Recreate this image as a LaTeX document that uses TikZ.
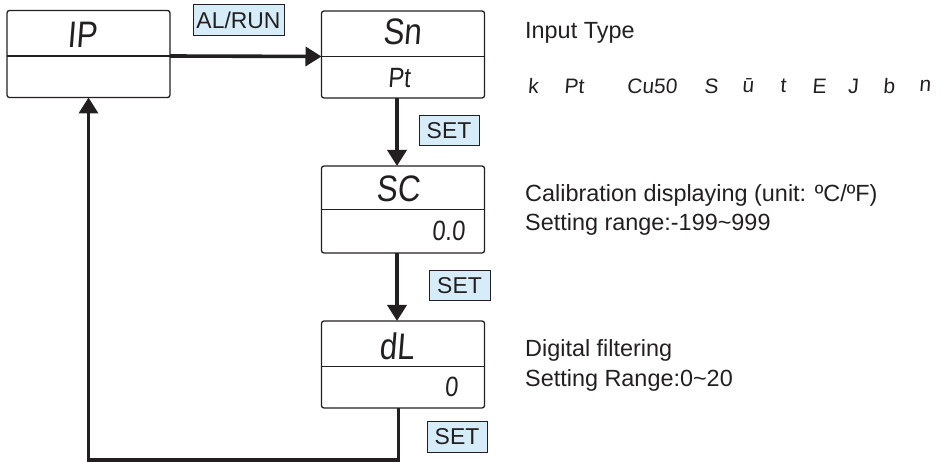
\documentclass[tikz,border=0pt]{standalone}
\usepackage{fontspec}
\setmainfont{Liberation Sans}
\newfontfamily\segfont[FakeStretch=0.85,FakeSlant=0.08]{Liberation Sans}
\newfontfamily\rowfont[FakeSlant=0.08]{Liberation Sans}
\usetikzlibrary{arrows.meta}
\definecolor{ink}{HTML}{231F20}
\definecolor{keyblue}{HTML}{D6ECF9}
\begin{document}
\begin{tikzpicture}[x=1bp,y=-1bp,
  dbox/.style={draw=ink,line width=1.3bp,rounded corners=2.5bp,minimum width=163bp,minimum height=87bp,inner sep=0pt,outer sep=0pt},
  divider/.style={draw=ink,line width=1.3bp},
  keybox/.style={draw=ink,line width=1bp,fill=keyblue,inner sep=0pt,outer sep=0pt,font=\fontsize{23}{24}\selectfont,text=ink},
  conn/.style={draw=ink,line width=3.6bp,-{Triangle[length=16bp,width=19bp]}},
  bigseg/.style={font=\segfont\fontsize{37}{37}\selectfont,text=ink,inner sep=0pt},
  smallseg/.style={font=\segfont\fontsize{28}{28}\selectfont,text=ink,inner sep=0pt},
  rowseg/.style={font=\rowfont\fontsize{21}{21}\selectfont,text=ink,inner sep=0pt},
  desc/.style={font=\fontsize{23.5}{29}\selectfont,text=ink,inner sep=0pt,anchor=base west}]
\useasboundingbox (0,0) rectangle (943,462);

% display boxes
\node[dbox] (b1) at (88.5,54) {};
\draw[divider] ([yshift=-2bp]b1.west) -- ([yshift=-2bp]b1.east);
\node[dbox] (b2) at (403,54.5) {};
\draw[divider] ([yshift=-2bp]b2.west) -- ([yshift=-2bp]b2.east);
\node[dbox] (b3) at (403,209.5) {};
\draw[divider] (b3.west) -- (b3.east);
\node[dbox] (b4) at (403,364.5) {};
\draw[divider] ([yshift=-2bp]b4.west) -- ([yshift=-2bp]b4.east);

% display texts
\node[bigseg] (t1) at (82,35) {IP};
\node[bigseg] (t2) at (402,32) {Sn};
\node[smallseg] (t2b) at (399,78) {Pt};
\node[bigseg] (t3) at (398,188.5) {SC};
\node[smallseg,anchor=east] (t3b) at (465,231) {0.0};
\node[bigseg] (t4) at (396.5,346) {dL};
\node[smallseg,anchor=east] (t4b) at (458,387) {0};

% keys
\node[keybox,minimum width=91bp,minimum height=31bp] (k1) at (238.5,20.5) {AL/RUN};
\node[keybox,minimum width=60bp,minimum height=30bp] (k2) at (449,131) {SET};
\node[keybox,minimum width=61bp,minimum height=30bp] (k3) at (459.5,286) {SET};
\node[keybox,minimum width=60bp,minimum height=30bp] (k4) at (457,437) {SET};

% connectors
\draw[conn] ([yshift=-2bp]b1.east) -- ([yshift=-2bp]b2.west);
\draw[conn] ([xshift=-6bp]b2.south) -- ([xshift=-6bp]b3.north);
\draw[conn] ([xshift=-6bp]b3.south) -- ([xshift=-6bp]b4.north);
\draw[conn] ([xshift=-4.5bp]b4.south) -- ++(0,52) -| (b1.south);

% descriptions
\node[desc] (d1) at (525,39) {Input Type};
\node[rowseg] (r1) at (533,86) {k};
\node[rowseg] (r2) at (574,86) {Pt};
\node[rowseg] (r3) at (652,86) {Cu50};
\node[rowseg] (r4) at (711,86) {S};
\node[rowseg] (r5) at (748,86) {ū};
\node[rowseg] (r6) at (783,86) {t};
\node[rowseg] (r7) at (819,86) {E};
\node[rowseg] (r8) at (853,86) {J};
\node[rowseg] (r9) at (889,86) {b};
\node[rowseg] (r10) at (925,86) {n};
\node[desc] (d2) at (525,202) {Calibration displaying (unit: ºC/ºF)};
\node[desc] (d3) at (525,231) {Setting range:-199\textasciitilde999};
\node[desc] (d4) at (525,357) {Digital filtering};
\node[desc] (d5) at (525,387) {Setting Range:0\textasciitilde20};
\end{tikzpicture}
\end{document}
